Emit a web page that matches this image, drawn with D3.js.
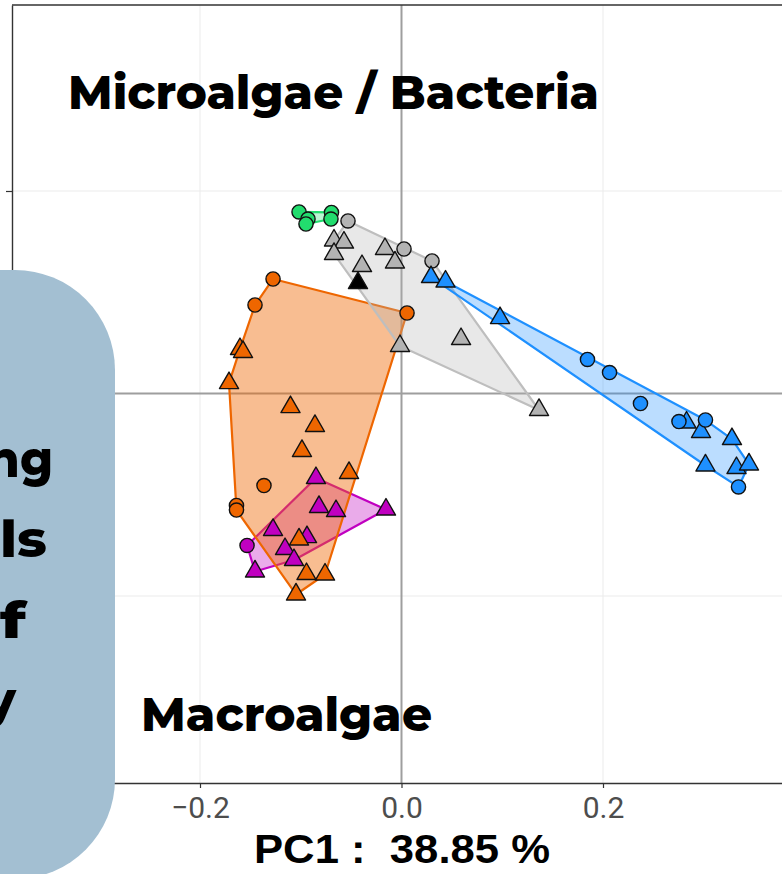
<!DOCTYPE html>
<html>
<head>
<meta charset="utf-8">
<script src="https://cdn.jsdelivr.net/npm/d3@7"></script>
<style>
  html, body { margin: 0; padding: 0; background: #ffffff; }
  svg { display: block; }
</style>
</head>
<body>
<svg id="chart" width="782" height="874"></svg>
<script>
// ---------------- DATA (PC1, PC2) ----------------
const xLim = [-0.3866, 0.3871];
const yLim = [-0.3847, 0.3837];
const xTicks = [-0.2, 0.0, 0.2];
const xTickLabels = ["\u22120.2", "0.0", "0.2"];
const yTicks = [-0.2, 0.0, 0.2];
const xTitle = "PC1 :  38.85 %";
const topLabel = "Microalgae / Bacteria";
const bottomLabel = "Macroalgae";
const sideLines = ["ng", "ls", "f", "y"];

const greenCircles = [[-0.1017, 0.1793], [-0.0928, 0.1723], [-0.0948, 0.1674], [-0.0695, 0.1788], [-0.0700, 0.1723]];
const grayCircles = [[-0.0531, 0.1704], [0.0025, 0.1427], [0.0303, 0.1309]];
const grayTriangles = [[-0.0670, 0.1511], [-0.0571, 0.1491], [-0.0670, 0.1378], [-0.0164, 0.1427], [-0.0065, 0.1294],
                       [-0.0392, 0.1259], [-0.0015, 0.0469], [0.0591, 0.0538], [0.1365, -0.0163]];
const blackTriangles = [[-0.0432, 0.1091]];
const orangeCircles = [[-0.1275, 0.1131], [-0.1454, 0.0874], [0.0055, 0.0795], [-0.1365, -0.0909], [-0.1638, -0.1106], [-0.1638, -0.1151]];
const orangeTriangles = [[-0.1603, 0.0439], [-0.1573, 0.0410], [-0.1712, 0.0103], [-0.1102, -0.0134], [-0.0859, -0.0321],
                         [-0.0988, -0.0568], [-0.0521, -0.0785], [-0.1017, -0.1442], [-0.0943, -0.1783], [-0.0759, -0.1788], [-0.1047, -0.1985]];
const purpleCircles = [[-0.1533, -0.1501]];
const purpleTriangles = [[-0.0849, -0.0835], [-0.0819, -0.1121], [-0.0650, -0.1161], [-0.0154, -0.1146], [-0.1275, -0.1348],
                         [-0.0938, -0.1418], [-0.1156, -0.1536], [-0.1067, -0.1645], [-0.1454, -0.1758]];
const blueCircles = [[0.1846, 0.0336], [0.2065, 0.0207], [0.2372, -0.0099], [0.2754, -0.0277], [0.3017, -0.0262], [0.3345, -0.0923]];
const blueTriangles = [[0.0293, 0.1150], [0.0437, 0.1106], [0.0978, 0.0745], [0.2829, -0.0287], [0.2973, -0.0380],
                       [0.3280, -0.0450], [0.3017, -0.0711], [0.3325, -0.0736], [0.3449, -0.0701]];

// draw order (bottom to top)
const groups = [
  { name: "purple", color: "#c000c0", hullAlpha: 0.33, circles: purpleCircles, triangles: purpleTriangles },
  { name: "orange", color: "#ee6600", hullAlpha: 0.43, circles: orangeCircles, triangles: orangeTriangles },
  { name: "gray",   color: "#b3b3b3", hullAlpha: 0.30, circles: grayCircles, triangles: grayTriangles, stroke: "#bebebe" },
  { name: "black",  color: "#000000", hullAlpha: 0.0, circles: [], triangles: blackTriangles },
  { name: "blue",   color: "#1e90ff", hullAlpha: 0.30, circles: blueCircles, triangles: blueTriangles },
  { name: "green",  color: "#22dd6e", hullAlpha: 0.30, circles: greenCircles, triangles: [] }
];

// ---------------- CHART ----------------
const svg = d3.select("#chart");
svg.append("rect").attr("width", 782).attr("height", 874).attr("fill", "#ffffff");

const x = d3.scaleLinear().domain(xLim).range([12, 791.5]);
const y = d3.scaleLinear().domain(yLim).range([783, 5]);

// grid
const grid = svg.append("g");
grid.selectAll("line.gx").data(xTicks.filter(d => d !== 0)).join("line")
  .attr("x1", d => x(d)).attr("x2", d => x(d)).attr("y1", y(yLim[0])).attr("y2", y(yLim[1]))
  .attr("stroke", "#ebebeb").attr("stroke-width", 1);
grid.selectAll("line.gy").data(yTicks.filter(d => d !== 0)).join("line")
  .attr("y1", d => y(d)).attr("y2", d => y(d)).attr("x1", x(xLim[0])).attr("x2", x(xLim[1]))
  .attr("stroke", "#ebebeb").attr("stroke-width", 1);

// zero lines
svg.append("line").attr("x1", x(0)).attr("x2", x(0)).attr("y1", y(yLim[0])).attr("y2", y(yLim[1]))
  .attr("stroke", "#9e9e9e").attr("stroke-width", 2);
svg.append("line").attr("y1", y(0)).attr("y2", y(0)).attr("x1", x(xLim[0])).attr("x2", x(xLim[1]))
  .attr("stroke", "#9e9e9e").attr("stroke-width", 2);

// hulls
const hullG = svg.append("g");
groups.forEach(g => {
  const pts = g.circles.concat(g.triangles).map(d => [x(d[0]), y(d[1])]);
  if (pts.length < 3) return;
  const hull = d3.polygonHull(pts);
  hullG.append("path")
    .attr("d", "M" + hull.map(p => p.join(",")).join("L") + "Z")
    .attr("fill", g.color).attr("fill-opacity", g.hullAlpha)
    .attr("stroke", g.stroke || g.color).attr("stroke-width", 2.2)
    .attr("stroke-linejoin", "round");
});

// points
const triSym = d3.symbol().type(d3.symbolTriangle).size(158);
const ptG = svg.append("g");
groups.forEach(g => {
  ptG.selectAll(null).data(g.triangles).join("path")
    .attr("d", triSym)
    .attr("transform", d => `translate(${x(d[0])},${y(d[1])})`)
    .attr("fill", g.color).attr("stroke", "#111").attr("stroke-width", 1.4)
    .attr("stroke-linejoin", "round");
  ptG.selectAll(null).data(g.circles).join("circle")
    .attr("cx", d => x(d[0])).attr("cy", d => y(d[1])).attr("r", 7.1)
    .attr("fill", g.color).attr("stroke", "#111").attr("stroke-width", 1.4);
});

// panel border (top + left) and axes
svg.append("line").attr("x1", x(xLim[0])).attr("x2", x(xLim[1])).attr("y1", y(yLim[1])).attr("y2", y(yLim[1]))
  .attr("stroke", "#333").attr("stroke-width", 1.4);

const xAxis = svg.append("g").attr("transform", `translate(0,${y(yLim[0])})`)
  .call(d3.axisBottom(x).tickValues(xTicks).tickFormat((d, i) => xTickLabels[i]).tickSize(5).tickSizeOuter(0).tickPadding(9));
xAxis.select(".domain").attr("stroke", "#333").attr("stroke-width", 1.4);
xAxis.selectAll(".tick line").attr("stroke", "#333").attr("stroke-width", 1.2);
xAxis.selectAll(".tick text").attr("fill", "#4d4d4d")
  .style("font-family", "Roboto, 'Liberation Sans', Arial, sans-serif").style("font-size", "30px");

const yAxis = svg.append("g").attr("transform", `translate(${x(xLim[0])},0)`)
  .call(d3.axisLeft(y).tickValues(yTicks).tickFormat(() => "").tickSize(6).tickSizeOuter(0));
yAxis.select(".domain").attr("stroke", "#333").attr("stroke-width", 1.4);
yAxis.selectAll(".tick line").attr("stroke", "#333").attr("stroke-width", 1.2);

// axis title
svg.append("text").attr("x", 254).attr("y", 863)
  .attr("textLength", 296).attr("lengthAdjust", "spacingAndGlyphs")
  .style("white-space", "pre")
  .style("font-family", "'Liberation Sans', Arial, sans-serif").style("font-weight", "bold").style("font-size", "41px")
  .attr("fill", "#000").text(xTitle);

// group labels
const labelFont = "Montserrat, 'Open Sans', Lato, sans-serif";
svg.append("text").attr("x", 68).attr("y", 109)
  .attr("textLength", 531).attr("lengthAdjust", "spacingAndGlyphs")
  .style("font-family", labelFont).style("font-weight", 800).style("font-size", "47px")
  .attr("fill", "#000").text(topLabel);
svg.append("text").attr("x", 141).attr("y", 731)
  .attr("textLength", 291).attr("lengthAdjust", "spacingAndGlyphs")
  .style("font-family", labelFont).style("font-weight", 800).style("font-size", "47px")
  .attr("fill", "#000").text(bottomLabel);

// overlaid rounded panel on the left (its text runs past the left edge, as in the reference)
svg.append("rect").attr("x", -110).attr("y", 270).attr("width", 225).attr("height", 609).attr("rx", 100).attr("ry", 100)
  .attr("fill", "#a3bfd2");

const sideX = [-13, 0, 0, -16];
const sideLen = [66, 47, 26, 32];
const sideY = [477, 557, 638, 718];
sideLines.forEach((t, i) => {
  svg.append("text").attr("x", sideX[i]).attr("y", sideY[i])
    .attr("textLength", sideLen[i]).attr("lengthAdjust", "spacingAndGlyphs")
    .style("font-family", labelFont).style("font-weight", 800).style("font-size", "50px")
    .attr("fill", "#000").text(t);
});
</script>
</body>
</html>
